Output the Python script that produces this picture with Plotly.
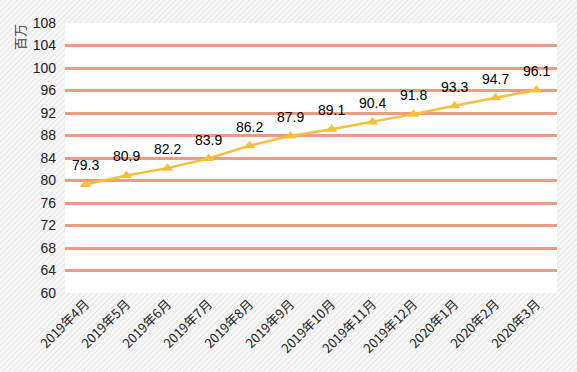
import plotly.graph_objects as go
import base64

categories = ["2019年4月", "2019年5月", "2019年6月", "2019年7月", "2019年8月", "2019年9月",
              "2019年10月", "2019年11月", "2019年12月", "2020年1月", "2020年2月", "2020年3月"]
values = [79.3, 80.9, 82.2, 83.9, 86.2, 87.9, 89.1, 90.4, 91.8, 93.3, 94.7, 96.1]
y_ticks = list(range(60, 109, 4))

svg = ('<svg xmlns="http://www.w3.org/2000/svg" width="577" height="372">'
       '<defs><pattern id="p" width="4" height="4" patternUnits="userSpaceOnUse" patternTransform="rotate(45)">'
       '<rect width="4" height="4" fill="#f7f7f7"/><line x1="0" y1="0" x2="0" y2="4" stroke="#d9d9d9" stroke-width="1.2"/>'
       '</pattern></defs><rect width="577" height="372" fill="url(#p)"/></svg>')
uri = "data:image/svg+xml;base64," + base64.b64encode(svg.encode()).decode()

L, R, T, B = 65, 20, 23, 79
PW, PH = 577 - L - R, 372 - T - B

fig = go.Figure()
fig.add_trace(go.Scatter(
    x=categories, y=values, mode="lines+markers",
    line=dict(color="#F6BE3A", width=2.5),
    marker=dict(symbol="triangle-up", size=10, color="#F6BE3A"),
    cliponaxis=False, showlegend=False,
))

annotations = [dict(x=c, y=v, text=f"{v:.1f}", showarrow=False, yshift=19,
                    font=dict(family="Liberation Sans, Arial", size=14, color="#000000"))
               for c, v in zip(categories, values)]
annotations.append(dict(text="百万", xref="paper", yref="paper", x=-45/PW, y=1 - 14/PH,
                        showarrow=False, textangle=-90, xanchor="center", yanchor="middle",
                        font=dict(family="Noto Sans CJK SC", size=13, color="#444444")))

fig.update_layout(
    width=577, height=372,
    margin=dict(l=L, r=R, t=T, b=B),
    paper_bgcolor="#f7f7f7", plot_bgcolor="white",
    images=[dict(source=uri, xref="paper", yref="paper", x=-L/PW, y=1 + T/PH,
                 sizex=577/PW, sizey=372/PH, xanchor="left", yanchor="top",
                 sizing="stretch", layer="below")],
    shapes=[dict(type="rect", xref="paper", yref="paper", x0=0, x1=1, y0=0, y1=1,
                 fillcolor="white", line=dict(width=0), layer="below")],
    xaxis=dict(type="category", range=[-0.5, len(categories) - 0.5], tickangle=-45,
               showgrid=False, showline=False, ticks="",
               tickfont=dict(family="Noto Sans CJK SC, Liberation Sans", size=13, color="#222222")),
    yaxis=dict(range=[60, 108], tickvals=y_ticks, showgrid=True, gridcolor="#EC9C82", gridwidth=3,
               zeroline=False, showline=False, ticks="", ticklabelstandoff=8,
               tickfont=dict(family="Liberation Sans, Arial", size=14, color="#222222")),
    annotations=annotations,
)

fig.write_html("out.html", config={"displayModeBar": False},
               post_script="document.body.style.margin='0';")
